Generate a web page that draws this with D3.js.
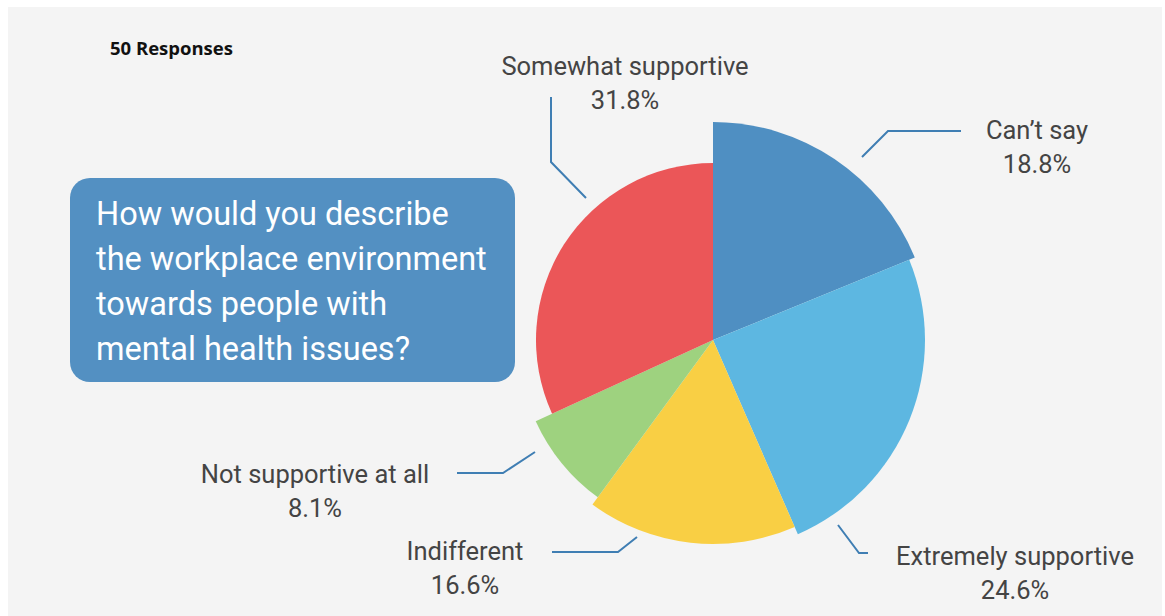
<!DOCTYPE html>
<html>
<head>
<meta charset="utf-8">
<script src="https://cdn.jsdelivr.net/npm/d3@7"></script>
<style>
  html, body { margin: 0; padding: 0; background: #ffffff; }
  svg { display: block; }
</style>
</head>
<body>
<div id="chart"></div>
<script>
// Data
const categories = ["Can\u2019t say", "Extremely supportive", "Indifferent", "Not supportive at all", "Somewhat supportive"];
const shares = [18.8, 24.6, 16.6, 8.1, 31.8];
const colors = ["#4f8fc2", "#5db7e1", "#f9cf44", "#9ed27f", "#eb5658"];
const responses = "50 Responses";
const question = ["How would you describe", "the workplace environment", "towards people with", "mental health issues?"];

// Svg defs
let w = 1165,
    h = 616;

const svg = d3.select("#chart")
  .append("svg")
  .attr("width", w)
  .attr("height", h)
  .attr("viewBox", [0, 0, w, h]);

// white frame with grey panel inside
svg.append("rect")
  .attr("width", w).attr("height", h)
  .attr("fill", "#ffffff");
svg.append("rect")
  .attr("x", 8).attr("y", 7)
  .attr("width", w - 11).attr("height", h - 7)
  .attr("fill", "#f4f4f4");

// Pie
let cx = 713, cy = 340;
// each slice is drawn a bit smaller than the one before it
let sliceRadius = [218, 212, 204, 195, 177];

let pie = d3.pie().sort(null).value(d => d)(shares);

svg.append("g")
  .attr("transform", `translate(${cx},${cy})`)
  .selectAll("path")
  .data(pie)
  .join("path")
  .attr("d", (d, i) => d3.arc().innerRadius(0).outerRadius(sliceRadius[i])(d))
  .attr("fill", (d, i) => colors[i]);

// Leader lines + labels (hand placed, like the original)
let layout = [
  { line: [[862, 157], [888, 131], [961, 131]], tx: 1037, ty: 139 },
  { line: [[838, 525], [859, 553], [868, 553]], tx: 1015, ty: 565 },
  { line: [[637, 537], [618, 552], [552, 552]], tx: 465, ty: 560 },
  { line: [[535, 452], [503, 473], [457, 473]], tx: 315, ty: 483 },
  { line: [[586, 198], [551, 162], [551, 97]], tx: 625, ty: 75 }
];

let lbl = svg.append("g");

lbl.selectAll("path")
  .data(layout)
  .join("path")
  .attr("d", d => d3.line()(d.line))
  .attr("fill", "none")
  .attr("stroke", "#3f7eb3")
  .attr("stroke-width", 2);

let txt = lbl.selectAll("text")
  .data(layout)
  .join("text")
  .attr("x", d => d.tx)
  .attr("y", d => d.ty)
  .attr("text-anchor", "middle")
  .attr("fill", "#444")
  .style("font-family", "Roboto, sans-serif")
  .style("font-size", "25.5px");

txt.append("tspan")
  .attr("x", d => d.tx)
  .text((d, i) => categories[i]);
txt.append("tspan")
  .attr("x", d => d.tx)
  .attr("dy", 34)
  .text((d, i) => d3.format(".1f")(shares[i]) + "%");

// Responses note
svg.append("text")
  .attr("x", 110)
  .attr("y", 55)
  .attr("fill", "#111")
  .style("font-family", "'Open Sans', sans-serif")
  .style("font-weight", "bold")
  .style("font-size", "18.5px")
  .text(responses);

// Question box
svg.append("rect")
  .attr("x", 70).attr("y", 178)
  .attr("width", 445).attr("height", 204)
  .attr("rx", 20)
  .attr("fill", "#5390c2");

svg.append("g")
  .selectAll("text")
  .data(question)
  .join("text")
  .attr("x", 96)
  .attr("y", (d, i) => 225 + i * 45)
  .attr("fill", "#fff")
  .style("font-family", "Roboto, sans-serif")
  .style("font-size", "32.5px")
  .text(d => d);
</script>
</body>
</html>
